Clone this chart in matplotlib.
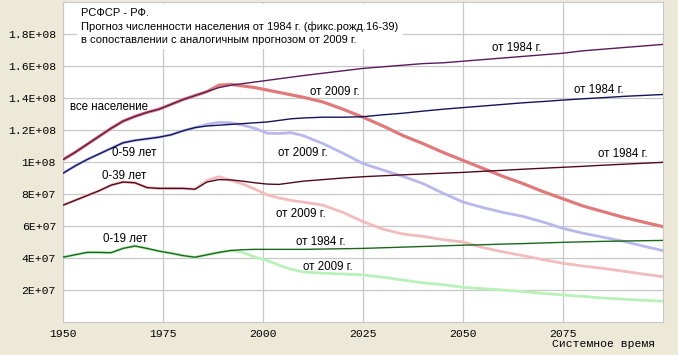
import matplotlib
matplotlib.use("Agg")
import matplotlib.pyplot as plt
from matplotlib.ticker import FixedLocator

# Годы (общая сетка для всех рядов)
YEARS = [1950, 1953, 1956, 1959, 1962, 1965, 1968, 1971, 1974, 1977, 1980, 1983,
         1986, 1989, 1992, 1995, 1998, 2001, 2004, 2007, 2010, 2015, 2020, 2025,
         2030, 2035, 2040, 2045, 2050, 2055, 2060, 2065, 2070, 2075, 2080, 2085,
         2090, 2095, 2100]

# Численность, млн чел.
TOTAL_1984 = [101.5, 106, 111, 116, 121, 125.5, 128.5, 131, 133, 136, 139, 141.5,
              144, 146.5, 148, 149, 150, 151, 152, 153, 154, 155.5, 157, 158.5,
              159.5, 160.5, 161.5, 162, 163, 164, 165, 166, 167, 168, 169.5, 170.5,
              171.5, 172.5, 173.5]
TOTAL_2009 = [101.5, 106, 111, 116, 121, 125.5, 128.5, 131, 133, 136, 139, 141.5,
              144, 148, 148.5, 147.5, 146.5, 145, 143.5, 142, 140.5, 137.5, 133, 128,
              122.5, 116.5, 111.5, 106, 101, 96, 91, 86.5, 81.5, 77, 72.5, 69,
              65.5, 62.5, 59.6]

AGE59_1984 = [93, 97.5, 101.5, 105, 108.5, 112, 113.5, 114.5, 115.5, 117, 119.5, 121.5,
              122.5, 123, 123.5, 124, 124.5, 125, 126, 127, 127.5, 128, 128, 128.3,
              129.5, 130.5, 131.8, 133, 134, 135, 136, 137, 137.8, 138.7, 139.5, 140.2,
              141, 141.6, 142.2]
AGE59_2009 = [93, 97.5, 101.5, 105, 108.5, 112, 113.5, 114.5, 115.5, 117, 119.5, 121.5,
              123.5, 124.8, 124.5, 123, 121, 118, 117.8, 118.3, 116.5, 111.5, 105.5, 99,
              95, 91, 86.5, 80.5, 75, 71.5, 68.5, 66, 62.5, 58.5, 55.5, 53,
              50.5, 47.5, 44.6]

AGE39_1984 = [73, 76, 79, 82, 85.5, 87.5, 87, 84, 83.5, 83.5, 83.5, 83,
              87.5, 89, 88.8, 88, 87, 86.2, 86, 87, 88, 89, 90, 90.8,
              91.4, 92, 92.5, 93, 93.5, 94.2, 94.8, 95.5, 96.1, 96.7, 97.3, 98,
              98.6, 99.2, 99.8]
AGE39_2009 = [73, 76, 79, 82, 85.5, 87.5, 87, 84, 83.5, 83.5, 83.5, 83,
              88.5, 90.8, 88.5, 86.2, 83, 79.5, 77.5, 76, 75, 73, 68.5, 62.7,
              58, 55, 53.5, 51.5, 50, 46.5, 43.8, 41.5, 39, 36.7, 35, 33.5,
              31.8, 30, 28.3]

AGE19_1984 = [40.5, 42, 43.5, 43.5, 43.3, 46, 47.5, 46, 44.3, 43, 41.5, 40.5,
              42, 43.5, 44.7, 45.2, 45.4, 45.4, 45.4, 45.4, 45.4, 45.6, 45.8, 46,
              46.4, 46.8, 47.2, 47.6, 48, 48.3, 48.7, 49, 49.4, 49.8, 50.1, 50.4,
              50.6, 50.8, 51]
AGE19_2009 = [40.5, 42, 43.5, 43.5, 43.3, 46, 47.5, 46, 44.3, 43, 41.5, 40.5,
              42, 43.5, 44.7, 43.5, 40.5, 38.5, 35.5, 33, 31.3, 30.5, 30, 29.4,
              28, 26.2, 24.5, 23.3, 21.7, 20.8, 20, 19, 17.9, 16.9, 16, 15,
              14.3, 13.6, 13]

Y_TICKS = [2e7, 4e7, 6e7, 8e7, 1e8, 1.2e8, 1.4e8, 1.6e8, 1.8e8]
Y_LABELS = ["2E+07", "4E+07", "6E+07", "8E+07", "1E+08", "1.2E+08", "1.4E+08", "1.6E+08", "1.8E+08"]
X_TICKS = [1950, 1975, 2000, 2025, 2050, 2075]

TITLE = ("РСФСР - РФ.\n"
         "Прогноз численности населения от 1984 г. (фикс.рожд.16-39)\n"
         "в сопоставлении с аналогичным прогнозом от 2009 г.")

M = 1e6
BG = "#ECE9D8"
fig = plt.figure(figsize=(6.78, 3.55), dpi=100, facecolor=BG)
ax = fig.add_axes([63 / 678, 33 / 355, 600 / 678, 320 / 355])
ax.set_facecolor("white")

# прогноз 2009 г. - светлые толстые линии (снизу)
ax.plot(YEARS, [v * M for v in TOTAL_2009], color="#E07A7A", lw=2.3, zorder=2)
ax.plot(YEARS, [v * M for v in AGE59_2009], color="#B8B8EC", lw=2.0, zorder=2)
ax.plot(YEARS, [v * M for v in AGE39_2009], color="#F2BCBC", lw=2.0, zorder=2)
ax.plot(YEARS, [v * M for v in AGE19_2009], color="#B8F2B8", lw=2.0, zorder=2)

# прогноз 1984 г. - тонкие тёмные линии
ax.plot(YEARS, [v * M for v in TOTAL_1984], color="#5A1A5A", lw=1.0, zorder=3)
ax.plot(YEARS, [v * M for v in AGE59_1984], color="#14145A", lw=1.0, zorder=3)
ax.plot(YEARS, [v * M for v in AGE39_1984], color="#4E0A1C", lw=1.0, zorder=3)
ax.plot(YEARS, [v * M for v in AGE19_1984], color="#1C661C", lw=1.0, zorder=3)

ax.set_xlim(1950, 2100)
ax.set_ylim(0, 2e8)
ax.xaxis.set_major_locator(FixedLocator(X_TICKS))
ax.set_xticklabels([str(x) for x in X_TICKS])
ax.set_yticks(Y_TICKS)
ax.set_yticklabels(Y_LABELS)
ax.grid(True, color="#C8C8C8", lw=0.9, zorder=0)
ax.set_axisbelow(True)
ax.tick_params(length=0, pad=5, labelsize=8.2, colors="black")
for lab in ax.get_xticklabels() + ax.get_yticklabels():
    lab.set_family("Liberation Mono")
for s in ax.spines.values():
    s.set_color("#C8C8C8")
    s.set_linewidth(0.8)

fig.text(655 / 678, 1 - 344 / 355, "Системное время", ha="right", va="center",
         family="Liberation Mono", fontsize=8.2)

# заголовок на белой подложке
ax.text(1954.6, 1.96e8, TITLE, ha="left", va="top", fontsize=8.0,
        family="Liberation Sans", linespacing=1.35, zorder=5,
        bbox=dict(facecolor="white", edgecolor="none", pad=3))

# подписи кривых
fs = 8.3
ax.text(1951.7, 134.4 * M, "все население", fontsize=fs, family="Liberation Sans", va="center", zorder=6)
ax.text(1962.2, 105.8 * M, "0-59 лет", fontsize=fs, family="Liberation Sans", va="center", zorder=6)
ax.text(1959.7, 91.3 * M, "0-39 лет", fontsize=fs, family="Liberation Sans", va="center", zorder=6)
ax.text(1960.1, 51.7 * M, "0-19 лет", fontsize=fs, family="Liberation Sans", va="center", zorder=6)

ax.text(2011.7, 144 * M, "от 2009 г.", fontsize=fs, family="Liberation Sans", va="center", zorder=6)
ax.text(2003.8, 105.8 * M, "от 2009 г.", fontsize=fs, family="Liberation Sans", va="center", zorder=6)
ax.text(2003.2, 67.3 * M, "от 2009 г.", fontsize=fs, family="Liberation Sans", va="center", zorder=6)
ax.text(2009.9, 34.2 * M, "от 2009 г.", fontsize=fs, family="Liberation Sans", va="center", zorder=6)

ax.text(2057.2, 171 * M, "от 1984 г.", fontsize=fs, family="Liberation Sans", va="center", zorder=6)
ax.text(2077.8, 145 * M, "от 1984 г.", fontsize=fs, family="Liberation Sans", va="center", zorder=6)
ax.text(2083.8, 104.8 * M, "от 1984 г.", fontsize=fs, family="Liberation Sans", va="center", zorder=6)
ax.text(2008.2, 49.8 * M, "от 1984 г.", fontsize=fs, family="Liberation Sans", va="center", zorder=6)

fig.savefig("out.png", dpi=100, facecolor=BG)
